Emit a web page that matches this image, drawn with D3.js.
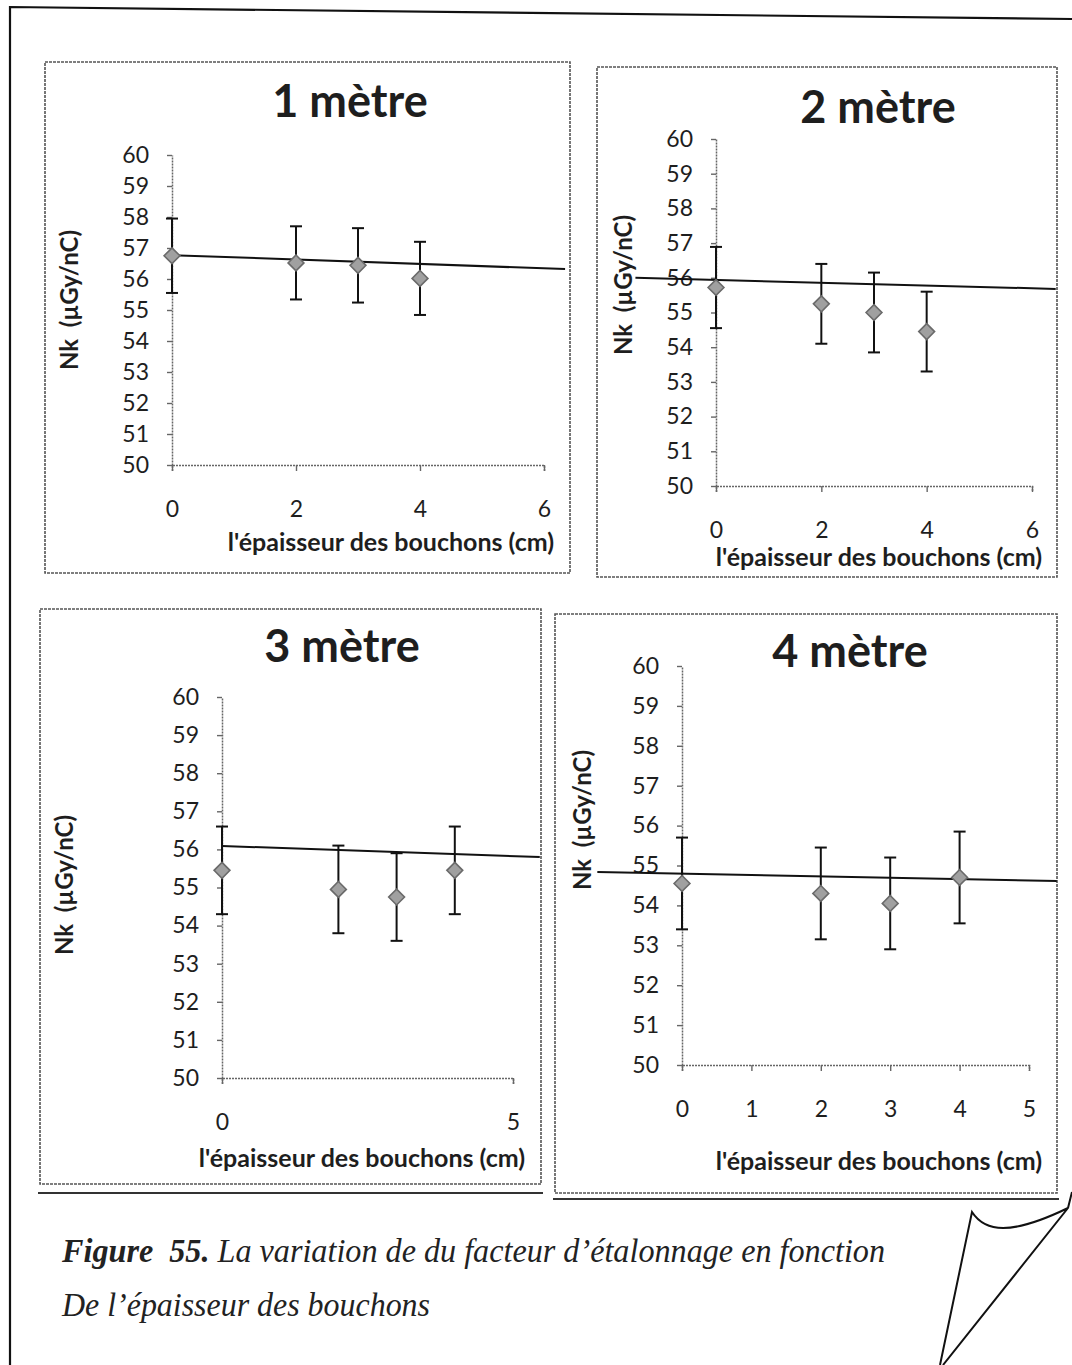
<!DOCTYPE html>
<html>
<head>
<meta charset="utf-8">
<script src="https://cdn.jsdelivr.net/npm/d3@7"></script>
<style>
  body { margin: 0; background: #ffffff; }
  svg { display: block; }
  .panel text { font-family: Lato, "Open Sans", "DejaVu Sans", sans-serif; fill: #1e1e1e; }
  .caption { font-family: "Liberation Serif", "DejaVu Serif", serif; font-style: italic; fill: #222; }
</style>
</head>
<body>
<svg id="fig" width="1072" height="1365"></svg>
<script>
// ---- data: calibration factor Nk (µGy/nC) versus cap thickness (cm) ----
const panelTitles = ["1 mètre", "2 mètre", "3 mètre", "4 mètre"];

const thickness1m = [0, 2, 3, 4];
const nk1m        = [56.75, 56.52, 56.44, 56.02];
const err1m       = [1.20, 1.18, 1.20, 1.18];

const thickness2m = [0, 2, 3, 4];
const nk2m        = [55.72, 55.25, 55.00, 54.45];
const err2m       = [1.17, 1.15, 1.15, 1.15];

const thickness3m = [0, 2, 3, 4];
const nk3m        = [55.45, 54.95, 54.75, 55.45];
const err3m       = [1.15, 1.15, 1.15, 1.15];

const thickness4m = [0, 2, 3, 4];
const nk4m        = [54.55, 54.30, 54.05, 54.70];
const err4m       = [1.15, 1.15, 1.15, 1.15];

// straight trend lines (end points in data units)
const trendX1m = [0, 6.34],     trendY1m = [56.77, 56.32];
const trendX2m = [-1.53, 6.45], trendY2m = [56.00, 55.68];
const trendX3m = [0, 5.46],     trendY3m = [56.09, 55.80];
const trendX4m = [-1.22, 5.40], trendY4m = [54.84, 54.61];

// tick labels
const yTickValues = [50, 51, 52, 53, 54, 55, 56, 57, 58, 59, 60];
const xTicks1m = [0, 2, 4, 6];
const xTicks2m = [0, 2, 4, 6];
const xTicks3m = [0, 5];
const xTicks4m = [0, 1, 2, 3, 4, 5];

const xAxisTitle = "l'épaisseur des bouchons (cm)";
const yAxisTitle = "Nk  (µGy/nC)";
const captionBold = "Figure  55.";
const captionRest = " La variation de du facteur d\u2019étalonnage en fonction";
const captionLine2 = "De l\u2019épaisseur des bouchons";

// ---- layout of the four chart boxes ----
const panels = [
  { title: panelTitles[0], xs: thickness1m, ys: nk1m, es: err1m, tx: trendX1m, ty: trendY1m, xt: xTicks1m,
    frame: [45, 62, 570, 573], px: [172, 544], xDom: [0, 6], py: [465, 155],
    titlePos: [350, 100], xtPos: [391, 541], ytPos: [68, 300] },
  { title: panelTitles[1], xs: thickness2m, ys: nk2m, es: err2m, tx: trendX2m, ty: trendY2m, xt: xTicks2m,
    frame: [597, 67, 1057, 577], px: [716, 1032], xDom: [0, 6], py: [486, 139],
    titlePos: [878, 106], xtPos: [879, 556], ytPos: [622, 285] },
  { title: panelTitles[2], xs: thickness3m, ys: nk3m, es: err3m, tx: trendX3m, ty: trendY3m, xt: xTicks3m,
    frame: [40, 609, 541, 1184], px: [222, 513], xDom: [0, 5], py: [1078, 697],
    titlePos: [342, 645], xtPos: [362, 1157], ytPos: [63, 885], bottomRule: 1193 },
  { title: panelTitles[3], xs: thickness4m, ys: nk4m, es: err4m, tx: trendX4m, ty: trendY4m, xt: xTicks4m,
    frame: [555, 614, 1057, 1193], px: [682, 1029], xDom: [0, 5], py: [1065, 666],
    titlePos: [850, 650], xtPos: [879, 1160], ytPos: [581, 820], bottomRule: 1199 }
];

const svg = d3.select("#fig");

// page border of the scanned sheet
svg.append("path")
  .attr("d", "M10,1365 L10,7 L1072,19")
  .attr("fill", "none").attr("stroke", "#111").attr("stroke-width", 2.2);

panels.forEach(p => {
  const g = svg.append("g").attr("class", "panel");
  const [fx0, fy0, fx1, fy1] = p.frame;

  // chart box (printed as a fine dotted frame)
  g.append("rect")
    .attr("x", fx0).attr("y", fy0).attr("width", fx1 - fx0).attr("height", fy1 - fy0)
    .attr("fill", "none").attr("stroke", "#555").attr("stroke-width", 1.6)
    .attr("stroke-dasharray", "3,1");
  if (p.bottomRule) {
    g.append("line")
      .attr("x1", fx0 - 2).attr("x2", fx1 + 2)
      .attr("y1", p.bottomRule).attr("y2", p.bottomRule)
      .attr("stroke", "#333").attr("stroke-width", 2);
  }

  const x = d3.scaleLinear().domain(p.xDom).range(p.px);
  const y = d3.scaleLinear().domain([50, 60]).range(p.py);

  // y axis
  const ya = g.append("g")
    .attr("transform", `translate(${p.px[0]},0)`)
    .call(d3.axisLeft(y).tickValues(yTickValues).tickFormat(d3.format("d"))
      .tickSize(5).tickSizeOuter(0).tickPadding(18));
  // x axis
  const xa = g.append("g")
    .attr("transform", `translate(0,${p.py[0]})`)
    .call(d3.axisBottom(x).tickValues(p.xt).tickFormat(d3.format("d"))
      .tickSize(6).tickSizeOuter(6).tickPadding(30));

  [ya, xa].forEach(a => {
    a.select(".domain").attr("stroke", "#666").attr("stroke-width", 1.5).attr("stroke-dasharray", "2,1");
    a.selectAll(".tick line").attr("stroke", "#666").attr("stroke-width", 1.4);
    a.selectAll(".tick text").attr("font-size", 23).attr("fill", "#222")
      .attr("font-family", "Lato, 'Open Sans', sans-serif");
  });

  // title
  g.append("text")
    .attr("x", p.titlePos[0]).attr("y", p.titlePos[1])
    .attr("text-anchor", "middle").attr("dominant-baseline", "central")
    .attr("font-size", 45).attr("font-weight", 700)
    .text(p.title);

  // axis titles
  g.append("text")
    .attr("x", p.xtPos[0]).attr("y", p.xtPos[1])
    .attr("text-anchor", "middle").attr("dominant-baseline", "central")
    .attr("font-size", 25).attr("font-weight", 700)
    .text(xAxisTitle);
  g.append("text")
    .attr("transform", `translate(${p.ytPos[0]},${p.ytPos[1]}) rotate(-90)`)
    .attr("text-anchor", "middle").attr("dominant-baseline", "central")
    .attr("font-size", 24).attr("font-weight", 700)
    .style("white-space", "pre")
    .text(yAxisTitle);

  // trend line
  const trend = p.tx.map((v, i) => [v, p.ty[i]]);
  g.append("path")
    .attr("d", d3.line().x(d => x(d[0])).y(d => y(d[1]))(trend))
    .attr("fill", "none").attr("stroke", "#111").attr("stroke-width", 2);

  // error bars
  const pts = p.xs.map((v, i) => ({ x: v, y: p.ys[i], e: p.es[i] }));
  const eb = g.append("g").selectAll("g").data(pts).join("g");
  eb.append("line")
    .attr("x1", d => x(d.x)).attr("x2", d => x(d.x))
    .attr("y1", d => y(d.y - d.e)).attr("y2", d => y(d.y + d.e))
    .attr("stroke", "#111").attr("stroke-width", 2);
  [-1, 1].forEach(s => {
    eb.append("line")
      .attr("x1", d => x(d.x) - 6).attr("x2", d => x(d.x) + 6)
      .attr("y1", d => y(d.y + s * d.e)).attr("y2", d => y(d.y + s * d.e))
      .attr("stroke", "#111").attr("stroke-width", 2);
  });

  // diamond markers
  g.append("g").selectAll("path").data(pts).join("path")
    .attr("transform", d => `translate(${x(d.x)},${y(d.y)})`)
    .attr("d", d3.symbol(d3.symbolDiamond2, 160)())
    .attr("fill", "#a0a0a0").attr("stroke", "#6a6a6a").attr("stroke-width", 1.6);
});

// caption
const cap = svg.append("text").attr("class", "caption")
  .attr("x", 62).attr("y", 1262).attr("font-size", 33)
  .attr("textLength", 823).attr("lengthAdjust", "spacingAndGlyphs");
cap.append("tspan").attr("font-weight", 700).style("white-space", "pre").text(captionBold);
cap.append("tspan").style("white-space", "pre").text(captionRest);
svg.append("text").attr("class", "caption")
  .attr("x", 62).attr("y", 1316).attr("font-size", 33)
  .attr("textLength", 368).attr("lengthAdjust", "spacingAndGlyphs")
  .text(captionLine2);

// curled page corner
svg.append("path")
  .attr("d", "M940,1365 L972,1212 C985,1232 1010,1236 1068,1208 L943,1365 M1068,1208 L1072,1192")
  .attr("fill", "none").attr("stroke", "#111").attr("stroke-width", 2);
</script>
</body>
</html>
